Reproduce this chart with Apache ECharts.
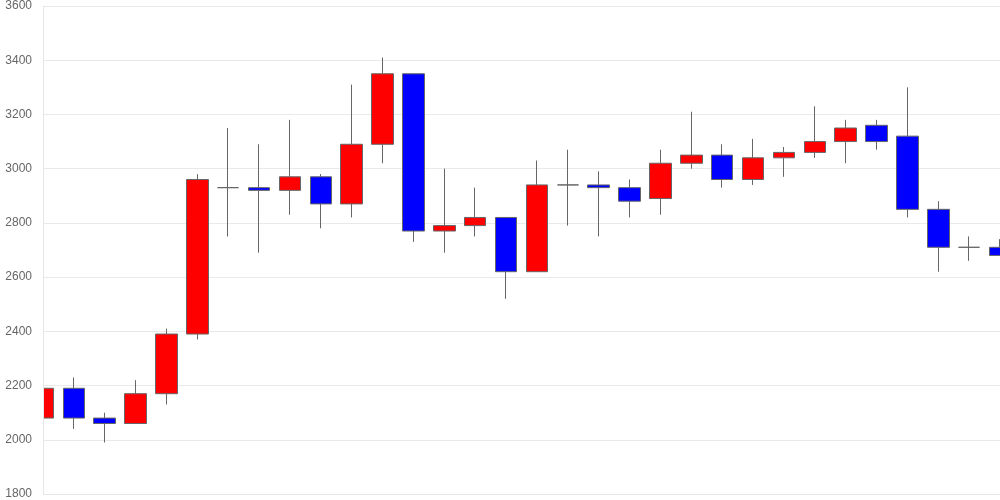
<!DOCTYPE html>
<html>
<head>
<meta charset="utf-8">
<script src="https://cdn.jsdelivr.net/npm/echarts@6/dist/echarts.min.js"></script>
<style>html,body{margin:0;padding:0;background:#fff}#c{width:1000px;height:500px}</style>
</head>
<body>
<div id="c"></div>
<script>
const categories = ['1','2','3','4','5','6','7','8','9','10','11','12','13','14','15','16','17','18','19','20','21','22','23','24','25','26','27','28','29','30','31','32'];
const openVals  = [2080,2190,2080,2060,2170,2390,2930,2930,2920,2970,2870,3090,3350,2770,2790,2820,2620,2940,2940,2930,2890,3020,3050,2960,3040,3060,3100,3160,3120,2850,2710,2710];
const closeVals = [2190,2080,2060,2170,2390,2960,2930,2920,2970,2870,3090,3350,2770,2790,2820,2620,2940,2940,2930,2880,3020,3050,2960,3040,3060,3100,3150,3100,2850,2710,2710,2680];
const lowVals   = [2080,2040,1990,2060,2130,2370,2750,2690,2830,2780,2820,3020,2730,2690,2750,2520,2620,2790,2750,2820,2830,3000,2930,2940,2970,3040,3020,3070,2820,2620,2660,2680];
const highVals  = [2230,2230,2100,2220,2410,2980,3150,3090,3180,2980,3310,3410,3350,3000,2930,2820,3030,3070,2990,2960,3070,3210,3090,3110,3080,3230,3180,3180,3300,2880,2750,2740];
const yTicks = [1800,2000,2200,2400,2600,2800,3000,3200,3400,3600];

const candleData = categories.map((c,i)=>[openVals[i],closeVals[i],lowVals[i],highVals[i]]);
const yMin = yTicks[0], yMax = yTicks[yTicks.length-1];
const chart = echarts.init(document.getElementById('c'));
chart.setOption({
  animation:false,
  grid:{left:43,right:0,top:5,bottom:6},
  graphic:[{type:'rect',z:50,silent:true,shape:{x:0,y:0,width:43,height:500},style:{fill:'#fff'}}],
  xAxis:{type:'category',data:categories,boundaryGap:false,
    axisLabel:{show:false},axisTick:{show:false},
    axisLine:{show:true,lineStyle:{color:'#e6e6e6'}},splitLine:{show:false}},
  yAxis:[
    {type:'value',min:yMin,max:yMax,interval:200,position:'left',
      axisLine:{show:false},axisTick:{show:false},axisLabel:{show:false},
      splitLine:{lineStyle:{color:'#e9e9e9'}}},
    {type:'value',min:yMin,max:yMax,interval:200,position:'left',offset:0,z:100,
      axisLine:{show:true,lineStyle:{color:'#e6e6e6'}},axisTick:{show:false},
      axisLabel:{color:'#666',fontSize:12,fontFamily:'Arial, Liberation Sans, sans-serif',margin:11,formatter:v=>String(v)},
      splitLine:{show:false}}
  ],
  series:[{type:'candlestick',data:candleData,barWidth:22,clip:true,yAxisIndex:0,
    itemStyle:{color:'#ff0000',color0:'#0000ff',borderColor:'#666',borderColor0:'#666',borderWidth:1}}]
});
</script>
</body>
</html>
